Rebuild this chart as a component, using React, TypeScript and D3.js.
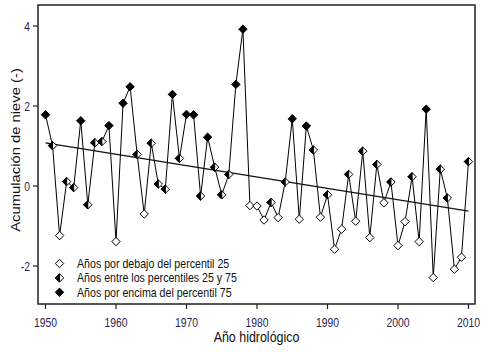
import React from "react";
import * as d3 from "d3";

const years: number[] = d3.range(1950, 2011);
const values: number[] = [
  1.78, 1.01, -1.24, 0.11, -0.04, 1.63, -0.47, 1.08, 1.11, 1.51,
  -1.39, 2.07, 2.48, 0.79, -0.7, 1.07, 0.05, -0.08, 2.29, 0.69,
  1.79, 1.78, -0.25, 1.22, 0.47, -0.22, 0.29, 2.54, 3.92, -0.49,
  -0.5, -0.85, -0.41, -0.79, 0.1, 1.68, -0.83, 1.5, 0.9, -0.78,
  -0.22, -1.58, -1.08, 0.29, -0.88, 0.87, -1.29, 0.54, -0.42, 0.1,
  -1.49, -0.89, 0.23, -1.39, 1.92, -2.29, 0.42, -0.3, -2.08, -1.78,
  0.61,
];
// 0 = below P25 (open), 1 = between P25 and P75 (half), 2 = above P75 (filled)
const groups: number[] = [
  2, 1, 0, 1, 1, 2, 1, 1, 1, 2,
  0, 2, 2, 1, 0, 1, 1, 1, 2, 1,
  2, 2, 1, 2, 1, 1, 1, 2, 2, 0,
  0, 0, 1, 0, 1, 2, 0, 2, 1, 0,
  1, 0, 0, 1, 0, 1, 0, 1, 0, 1,
  0, 0, 1, 0, 2, 0, 1, 1, 0, 0,
  1,
];
const trendYears: number[] = [1950, 2010];
const trendValues: number[] = [1.08, -0.63];
const xTicks: number[] = [1950, 1960, 1970, 1980, 1990, 2000, 2010];
const yTicks: number[] = [-2, 0, 2, 4];
const legendLabels: string[] = [
  "Años por debajo del percentil 25",
  "Años entre los percentiles 25 y 75",
  "Años por encima del percentil 75",
];

const FONT = "'Liberation Sans', Arial, sans-serif";
const SX = 0.83;

function Marker({ cx, cy, g }: { cx: number; cy: number; g: number }) {
  const r = 4.2;
  const d = `M${cx},${cy - r}L${cx + r},${cy}L${cx},${cy + r}L${cx - r},${cy}Z`;
  if (g === 2) return <path d={d} fill="#000" stroke="#000" strokeWidth={1} />;
  if (g === 0) return <path d={d} fill="#fff" stroke="#000" strokeWidth={1} />;
  const half = `M${cx},${cy - r}L${cx},${cy + r}L${cx - r},${cy}Z`;
  return (
    <g>
      <path d={d} fill="#fff" stroke="#000" strokeWidth={1} />
      <path d={half} fill="#000" stroke="#000" strokeWidth={1} />
    </g>
  );
}

export default function App() {
  const W = 500, H = 352;
  const box = { l: 38, r: 475, t: 5, b: 304 };
  const x = d3.scaleLinear().domain([1950, 2010]).range([45.5, 468.5]);
  const y = d3.scaleLinear().domain([-2, 4]).range([266, 26]);
  const line = d3.line<number>().x((_, i) => x(years[i])).y((v) => y(v));
  const trend = d3.line<number>().x((_, i) => x(trendYears[i])).y((v) => y(v));
  const tickColor = "#2a1f55";

  return (
    <svg width={W} height={H} style={{ position: "absolute", left: 0, top: 0, background: "#fff" }}>
      <rect x={0} y={0} width={W} height={H} fill="#fff" />
      <path d={line(values) || ""} fill="none" stroke="#000" strokeWidth={1} />
      <path d={trend(trendValues) || ""} fill="none" stroke="#111" strokeWidth={1.2} />
      {values.map((v, i) => (
        <Marker key={i} cx={x(years[i])} cy={y(v)} g={groups[i]} />
      ))}
      <rect x={box.l} y={box.t} width={box.r - box.l} height={box.b - box.t} fill="none" stroke="#222" strokeWidth={1.5} />
      {yTicks.map((t) => (
        <g key={t}>
          <line x1={box.l - 5} x2={box.l} y1={y(t)} y2={y(t)} stroke="#222" strokeWidth={1.2} />
          <text
            transform={`translate(30,${y(t) + 4.5}) scale(${SX},1)`}
            textAnchor="end"
            fontFamily={FONT}
            fontSize={12.5}
            fill={tickColor}
          >
            {t}
          </text>
        </g>
      ))}
      {xTicks.map((t) => (
        <g key={t}>
          <line x1={x(t)} x2={x(t)} y1={box.b} y2={box.b + 5} stroke="#222" strokeWidth={1.2} />
          <text
            transform={`translate(${x(t)},327) scale(${SX},1)`}
            textAnchor="middle"
            fontFamily={FONT}
            fontSize={12.5}
            fill={tickColor}
          >
            {t}
          </text>
        </g>
      ))}
      <text
        transform={`translate(256.5,342) scale(${SX},1)`}
        textAnchor="middle"
        fontFamily={FONT}
        fontSize={15}
        fill="#111"
      >
        Año hidrológico
      </text>
      <text
        transform={`translate(20,150) scale(${SX + 0.05},1) rotate(-90)`}
        textAnchor="middle"
        fontFamily={FONT}
        fontSize={14.8}
        fill="#111"
      >
        Acumulación de nieve (-)
      </text>
      {legendLabels.map((lab, i) => {
        const ly = 263.5 + i * 14.4;
        const g = i === 0 ? 0 : i === 1 ? 1 : 2;
        return (
          <g key={lab}>
            <Marker cx={59.5} cy={ly} g={g} />
            <text
              transform={`translate(77,${ly + 4.5}) scale(${SX},1)`}
              fontFamily={FONT}
              fontSize={12.8}
              fill="#111"
            >
              {lab}
            </text>
          </g>
        );
      })}
    </svg>
  );
}
